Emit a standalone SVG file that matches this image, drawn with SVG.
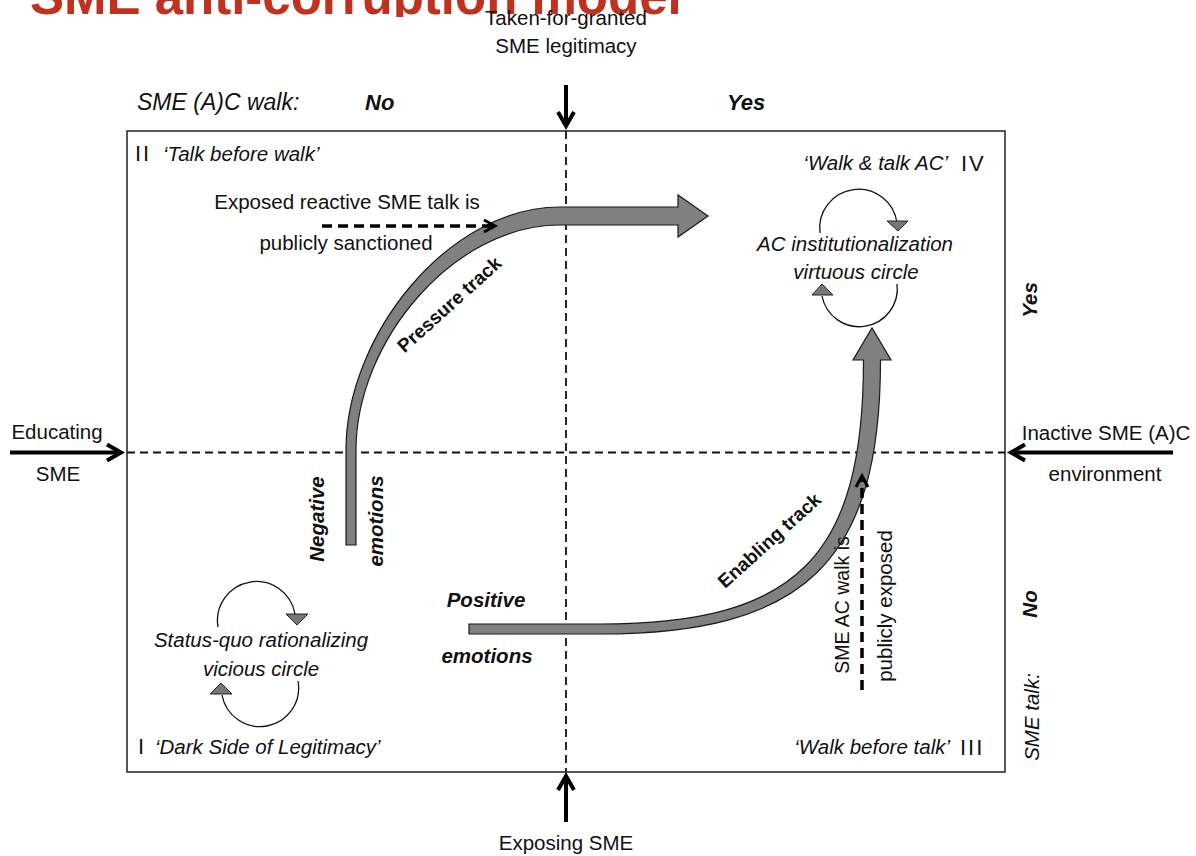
<svg xmlns="http://www.w3.org/2000/svg" width="1196" height="856" viewBox="0 0 1196 856">
  <defs>
    <style>
      .t { font-family: "Liberation Sans", Arial, sans-serif; font-size: 20.5px; fill: #111; }
      .i { font-style: italic; }
      .b { font-weight: bold; }
      .m { text-anchor: middle; }
      .e { text-anchor: end; }
      .num { letter-spacing: 2px; font-size: 22px; }
      .head { font-size: 22px; }
      .axis { stroke: #000; stroke-width: 4; fill: none; marker-end: url(#chev); }
      .grid { stroke: #111; stroke-width: 1.8; stroke-dasharray: 8 5; fill: none; }
      .dash { stroke: #000; stroke-width: 3.5; stroke-dasharray: 10 6; fill: none; marker-end: url(#chevSmall); }
      .track { fill: #808080; stroke: #1a1a1a; stroke-width: 1.2; stroke-linejoin: miter; }
      .loop { fill: none; stroke: #111; stroke-width: 1.3; }
      .tip { fill: #777; stroke: #222; stroke-width: 1; }
    </style>
    <marker id="chev" markerUnits="userSpaceOnUse" viewBox="-18 -12 24 24" refX="0" refY="0" markerWidth="24" markerHeight="24" orient="auto" overflow="visible">
      <path d="M-14,-8 L0,0 L-14,8" fill="none" stroke="#000" stroke-width="4"/>
    </marker>
    <marker id="chevSmall" markerUnits="userSpaceOnUse" viewBox="-16 -10 20 20" refX="0" refY="0" markerWidth="20" markerHeight="20" orient="auto" overflow="visible">
      <path d="M-11,-6 L0,0 L-11,6" fill="none" stroke="#000" stroke-width="3"/>
    </marker>
    <clipPath id="titleClip">
      <rect x="0" y="0" width="1196" height="17"/>
    </clipPath>
  </defs>

  <rect width="1196" height="856" fill="#fff"/>

  <!-- heading, cut at the top edge -->
  <text id="title" class="t b" x="30" y="14" style="font-size:51px;fill:#C0311F" clip-path="url(#titleClip)">SME anti-corruption model</text>

  <!-- frame and quadrant dividers -->
  <g id="frame">
    <rect x="127" y="131" width="878" height="641" fill="none" stroke="#222" stroke-width="1.5"/>
    <line class="grid" x1="127" y1="452.5" x2="1005" y2="452.5"/>
    <line class="grid" x1="566" y1="131" x2="566" y2="772"/>
  </g>

  <!-- axis labels -->
  <g id="axis-top">
    <text class="t m" x="566" y="25">Taken-for-granted</text>
    <text class="t m" x="566" y="53">SME legitimacy</text>
  </g>
  <g id="axis-bottom">
    <text class="t m" x="566" y="850">Exposing SME</text>
  </g>
  <g id="axis-left">
    <text class="t m" x="57" y="439">Educating</text>
    <text class="t m" x="58" y="481">SME</text>
  </g>
  <g id="axis-right">
    <text class="t m" x="1106" y="440">Inactive SME (A)C</text>
    <text class="t m" x="1105" y="481">environment</text>
  </g>

  <!-- walk / talk scales -->
  <g id="walk-scale">
    <text class="t i" style="font-size:23px" x="137" y="110">SME (A)C walk:</text>
    <text class="t i b head" x="365" y="110">No</text>
    <text class="t i b head" x="727" y="110">Yes</text>
  </g>
  <g id="talk-scale">
    <text class="t i b" transform="translate(1037,300) rotate(-90)" text-anchor="middle">Yes</text>
    <text class="t i b" transform="translate(1037,604) rotate(-90)" text-anchor="middle">No</text>
    <text class="t i" transform="translate(1039,717) rotate(-90)" text-anchor="middle">SME talk:</text>
  </g>

  <!-- quadrant titles -->
  <g id="quadrant-II">
    <text class="t num" x="135" y="161">II</text>
    <text class="t i" x="163" y="161">‘Talk before walk’</text>
  </g>
  <g id="quadrant-IV">
    <text class="t i e" x="948" y="170">‘Walk &amp; talk AC’</text>
    <text class="t num" x="961" y="171">IV</text>
  </g>
  <g id="quadrant-I">
    <text class="t num" x="138" y="754">I</text>
    <text class="t i" x="155" y="754">‘Dark Side of Legitimacy’</text>
  </g>
  <g id="quadrant-III">
    <text class="t i e" x="950" y="754">‘Walk before talk’</text>
    <text class="t num" x="960" y="755">III</text>
  </g>

  <!-- pressure track: tapering curved arrow from Negative emotions to quadrant IV -->
  <g id="pressure-track">
    <path class="track" d="M346,545 L346,450 C346,336 448,207 560,207 L678,207 L678,195 L708,216 L678,237 L678,225 L560,225 C453,225 356,342 356,450 L356,545 Z"/>
    <text class="t b m" style="font-size:19px" transform="translate(449,304) rotate(-42)" y="7">Pressure track</text>
  </g>

  <!-- enabling track: tapering curved arrow from Positive emotions to quadrant IV -->
  <g id="enabling-track">
    <path class="track" d="M469,624 L600,624 C796,624 863.5,558 863.5,360 L853,360 L872,328 L891,360 L880.5,360 C880.5,562 804,634 600,634 L469,634 Z"/>
    <text class="t b m" style="font-size:19px" transform="translate(769,540) rotate(-42)" y="7">Enabling track</text>
  </g>

  <!-- connectors, drawn above the tracks -->
  <g id="connectors">
    <line id="arrow-top" class="axis" x1="566" y1="85" x2="566" y2="126"/>
    <line id="arrow-bottom" class="axis" x1="566" y1="822" x2="566" y2="776"/>
    <line id="arrow-left" class="axis" x1="10" y1="452.5" x2="121" y2="452.5"/>
    <line id="arrow-right" class="axis" x1="1173" y1="452.5" x2="1011" y2="452.5"/>
    <line id="arrow-sanction" class="dash" x1="322" y1="226" x2="495" y2="226"/>
    <line id="arrow-exposed" class="dash" x1="862" y1="690" x2="862" y2="476"/>
  </g>

  <!-- emotion labels -->
  <g id="negative-emotions">
    <text class="t i b" transform="translate(324,519) rotate(-90)" text-anchor="middle">Negative</text>
    <text class="t i b" transform="translate(383,521) rotate(-90)" text-anchor="middle">emotions</text>
  </g>
  <g id="positive-emotions">
    <text class="t i b m" x="486" y="607">Positive</text>
    <text class="t i b m" x="487" y="663">emotions</text>
  </g>

  <!-- dashed arrow captions -->
  <g id="sanction-label">
    <text class="t m" x="347" y="209">Exposed reactive SME talk is</text>
    <text class="t m" x="346" y="250">publicly sanctioned</text>
  </g>
  <g id="exposed-label">
    <text class="t" style="font-size:19.5px" transform="translate(849,605) rotate(-90)" text-anchor="middle">SME AC walk is</text>
    <text class="t" transform="translate(892,606) rotate(-90)" text-anchor="middle">publicly exposed</text>
  </g>

  <!-- virtuous circle loop -->
  <g id="virtuous-circle">
    <path class="loop" d="M820,233 A38,38 0 0 1 897,223"/>
    <path class="tip" d="M887,221 L908,221 L898,231 Z"/>
    <path class="loop" d="M897,284 A38,38 0 0 1 822,296"/>
    <path class="tip" d="M812,295 L833,295 L822,284 Z"/>
    <text class="t i m" x="855" y="251">AC institutionalization</text>
    <text class="t i m" x="856" y="279">virtuous circle</text>
  </g>

  <!-- vicious circle loop -->
  <g id="vicious-circle">
    <path class="loop" d="M218,627 A38,38 0 0 1 295,614"/>
    <path class="tip" d="M286,614 L308,614 L297,625 Z"/>
    <path class="loop" d="M298,681 A38,38 0 0 1 222,695"/>
    <path class="tip" d="M210,694 L232,694 L221,683 Z"/>
    <text class="t i m" x="261" y="647">Status-quo rationalizing</text>
    <text class="t i m" x="261" y="676">vicious circle</text>
  </g>
</svg>
